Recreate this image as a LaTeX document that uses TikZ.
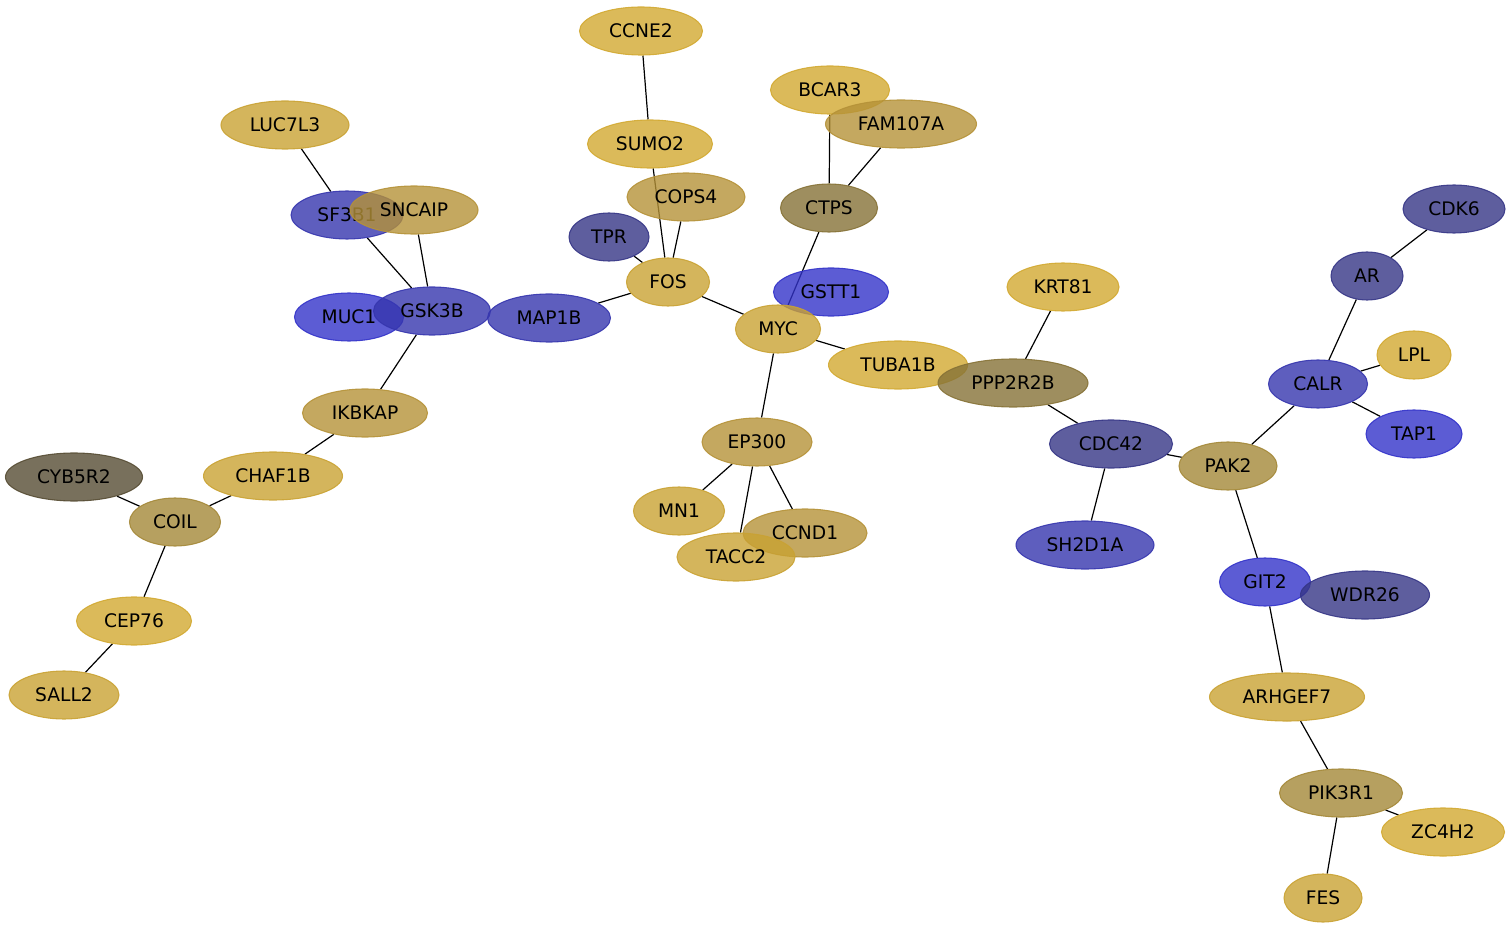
\documentclass[tikz,border=0pt]{standalone}
\usepackage{fontspec}
\setmainfont{DejaVu Sans}
\usepackage{tikz}
\usetikzlibrary{shapes.geometric,backgrounds}

\definecolor{goldA}{RGB}{210,169,49}
\definecolor{goldB}{RGB}{201,162,51}
\definecolor{tanA}{RGB}{181,146,56}
\definecolor{tanB}{RGB}{164,136,56}
\definecolor{olive}{RGB}{134,114,55}
\definecolor{umber}{RGB}{86,76,51}
\definecolor{blueA}{RGB}{51,51,201}
\definecolor{blueB}{RGB}{54,54,174}
\definecolor{slate}{RGB}{54,54,134}

\begin{document}
\begin{tikzpicture}[x=0.75pt,y=-0.75pt,
	every node/.style={black},
	gene/.style={ellipse,inner sep=0pt,minimum height=36pt,fill=#1,fill opacity=0.8,
		draw=#1,draw opacity=0.9,line width=0.8pt,text opacity=1,font=\fontsize{14}{16}\selectfont},
	link/.style={line width=0.9pt,black}]
	\useasboundingbox (0,0) rectangle (1512,930);

	% top row
	\node[gene=goldA,minimum width=92.25pt] (ccne2) at (641,31) {CCNE2};
	\node[gene=goldA,minimum width=93.75pt] (sumo2) at (650,144) {SUMO2};
	\node[gene=goldA,minimum width=89.25pt] (bcar3) at (830,90) {BCAR3};
	\node[gene=tanA,minimum width=113.25pt] (fam107a) at (901,124) {FAM107A};
	\node[gene=goldB,minimum width=96pt] (luc7l3) at (285,125) {LUC7L3};
	\node[gene=blueB,minimum width=84pt] (sf3b1) at (347,215) {SF3B1};
	\node[gene=tanA,minimum width=96pt] (sncaip) at (414,210) {SNCAIP};
	\node[gene=tanA,minimum width=88.5pt] (cops4) at (686,197) {COPS4};
	\node[gene=olive,minimum width=72.75pt] (ctps) at (829,208) {CTPS};
	\node[gene=slate,minimum width=76.5pt] (cdk6) at (1454,209) {CDK6};

	% middle
	\node[gene=slate,minimum width=60pt] (tpr) at (609,237) {TPR};
	\node[gene=goldB,minimum width=62.25pt] (fos) at (668,282) {FOS};
	\node[gene=goldA,minimum width=84pt] (krt81) at (1063,287) {KRT81};
	\node[gene=blueA,minimum width=86.25pt] (gstt1) at (831,292) {GSTT1};
	\node[gene=slate,minimum width=54pt] (ar) at (1367,276) {AR};
	\node[gene=blueA,minimum width=81.75pt] (muc1) at (349,317) {MUC1};
	\node[gene=blueB,minimum width=87.75pt] (gsk3b) at (432,311) {GSK3B};
	\node[gene=blueB,minimum width=92.25pt] (map1b) at (549,318) {MAP1B};
	\node[gene=goldB,minimum width=63.75pt] (myc) at (778,329) {MYC};
	\node[gene=goldA,minimum width=55.5pt] (lpl) at (1414,355) {LPL};
	\node[gene=goldA,minimum width=104.25pt] (tuba1b) at (898,365) {TUBA1B};
	\node[gene=olive,minimum width=112.5pt] (ppp2r2b) at (1013,383) {PPP2R2B};
	\node[gene=blueB,minimum width=74.25pt] (calr) at (1318,384) {CALR};
	\node[gene=tanA,minimum width=93.75pt] (ikbkap) at (365,413) {IKBKAP};
	\node[gene=blueA,minimum width=72pt] (tap1) at (1414,434) {TAP1};
	\node[gene=tanA,minimum width=82.5pt] (ep300) at (757,442) {EP300};
	\node[gene=slate,minimum width=92.25pt] (cdc42) at (1111,444) {CDC42};
	\node[gene=tanB,minimum width=73.5pt] (pak2) at (1228,466) {PAK2};

	% lower part
	\node[gene=umber,minimum width=102.75pt] (cyb5r2) at (74,477) {CYB5R2};
	\node[gene=goldB,minimum width=104.25pt] (chaf1b) at (273,476) {CHAF1B};
	\node[gene=goldB,minimum width=68.25pt] (mn1) at (679,511) {MN1};
	\node[gene=tanB,minimum width=68.25pt] (coil) at (175,522) {COIL};
	\node[gene=tanA,minimum width=93pt] (ccnd1) at (805,533) {CCND1};
	\node[gene=blueB,minimum width=103.5pt] (sh2d1a) at (1085,545) {SH2D1A};
	\node[gene=goldB,minimum width=88.5pt] (tacc2) at (736,557) {TACC2};
	\node[gene=blueA,minimum width=68.25pt] (git2) at (1265,582) {GIT2};
	\node[gene=slate,minimum width=96.75pt] (wdr26) at (1365,595) {WDR26};
	\node[gene=goldA,minimum width=86.25pt] (cep76) at (134,621) {CEP76};
	\node[gene=goldB,minimum width=82.5pt] (sall2) at (64,695) {SALL2};
	\node[gene=goldB,minimum width=116.25pt] (arhgef7) at (1287,697) {ARHGEF7};
	\node[gene=tanB,minimum width=92.25pt] (pik3r1) at (1341,793) {PIK3R1};
	\node[gene=goldA,minimum width=92.25pt] (zc4h2) at (1443,832) {ZC4H2};
	\node[gene=goldB,minimum width=58.5pt] (fes) at (1323,898) {FES};

	\begin{pgfonlayer}{background}
		\draw[link] (ccne2)--(sumo2);
		\draw[link] (sumo2)--(fos);
		\draw[link] (cops4)--(fos);
		\draw[link] (tpr)--(fos);
		\draw[link] (fos)--(map1b);
		\draw[link] (fos)--(myc);
		\draw[link] (bcar3)--(ctps);
		\draw[link] (fam107a)--(ctps);
		\draw[link] (ctps)--(myc);
		\draw[link] (myc)--(tuba1b);
		\draw[link] (myc)--(ep300);
		\draw[link] (ep300)--(mn1);
		\draw[link] (ep300)--(tacc2);
		\draw[link] (ep300)--(ccnd1);
		\draw[link] (luc7l3)--(sf3b1);
		\draw[link] (sf3b1)--(gsk3b);
		\draw[link] (sncaip)--(gsk3b);
		\draw[link] (gsk3b)--(ikbkap);
		\draw[link] (ikbkap)--(chaf1b);
		\draw[link] (chaf1b)--(coil);
		\draw[link] (cyb5r2)--(coil);
		\draw[link] (coil)--(cep76);
		\draw[link] (cep76)--(sall2);
		\draw[link] (krt81)--(ppp2r2b);
		\draw[link] (ppp2r2b)--(cdc42);
		\draw[link] (cdc42)--(sh2d1a);
		\draw[link] (cdc42)--(pak2);
		\draw[link] (pak2)--(calr);
		\draw[link] (calr)--(ar);
		\draw[link] (ar)--(cdk6);
		\draw[link] (calr)--(lpl);
		\draw[link] (calr)--(tap1);
		\draw[link] (pak2)--(git2);
		\draw[link] (git2)--(arhgef7);
		\draw[link] (arhgef7)--(pik3r1);
		\draw[link] (pik3r1)--(zc4h2);
		\draw[link] (pik3r1)--(fes);
	\end{pgfonlayer}
\end{tikzpicture}
\end{document}
